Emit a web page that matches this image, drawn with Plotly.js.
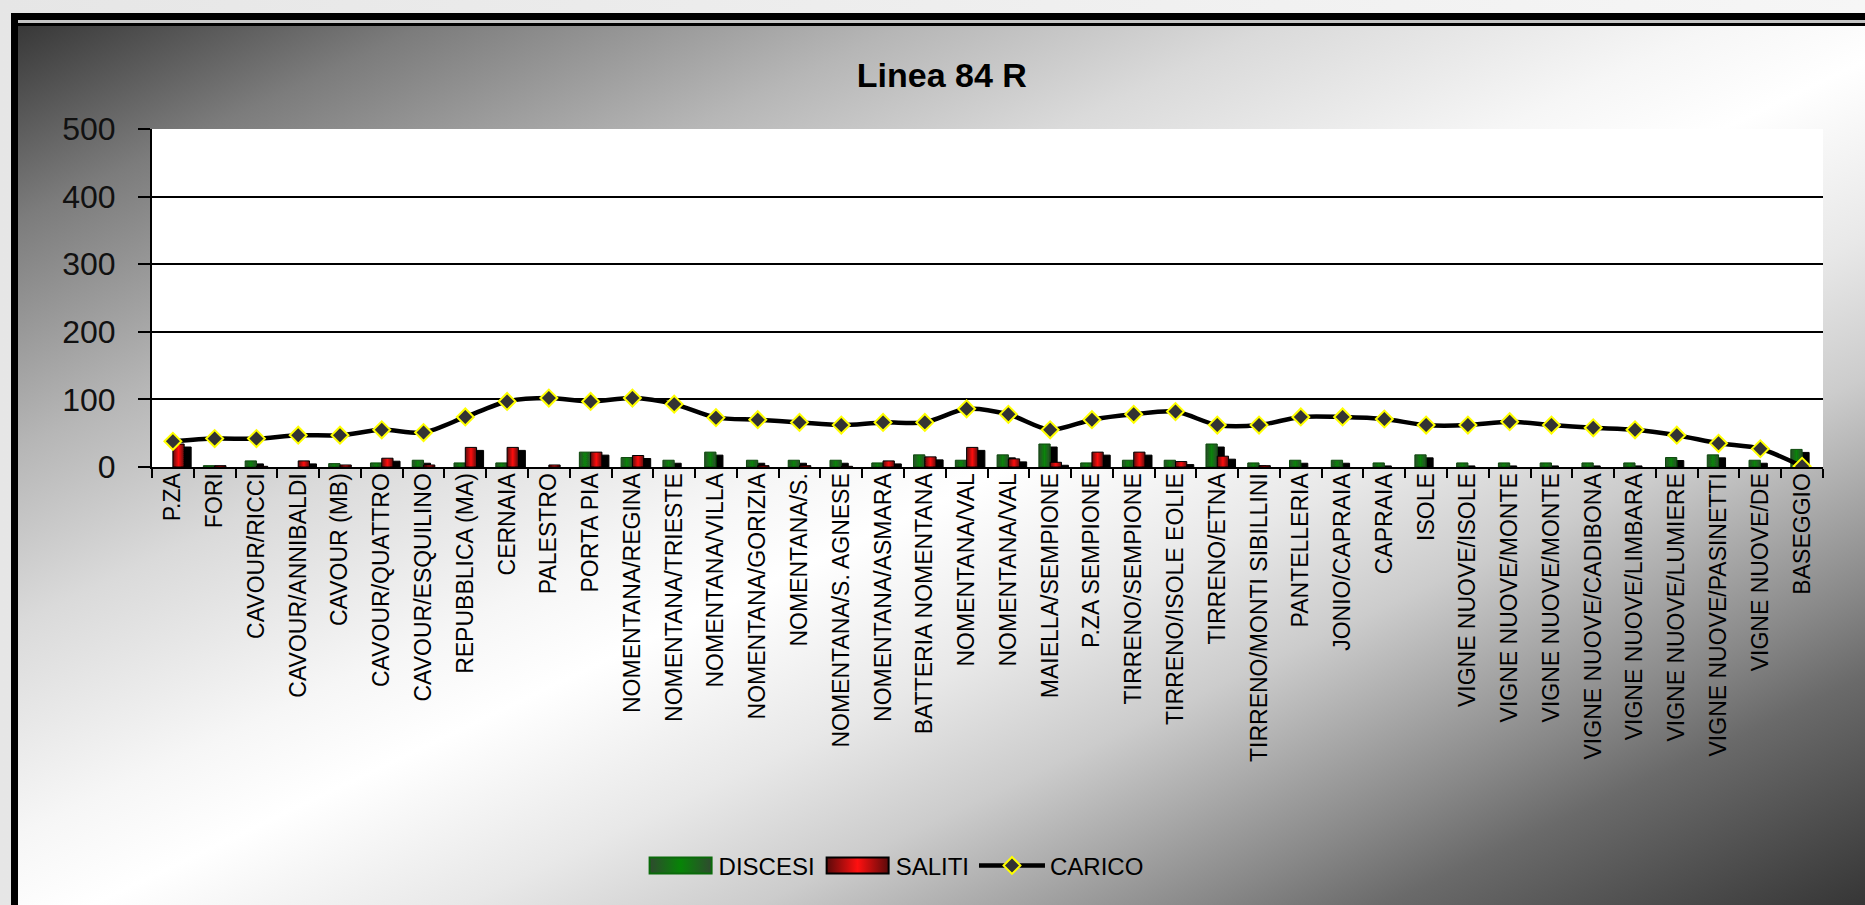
<!DOCTYPE html>
<html><head><meta charset="utf-8">
<script src="https://cdn.plot.ly/plotly-3.0.1.min.js"></script>
<style>
html,body{margin:0;padding:0;width:1865px;height:905px;overflow:hidden;background:linear-gradient(to right,#e6e6e6,#f6f6f6);}
#frame{position:absolute;left:11px;top:13px;width:1854px;height:892px;background:#000;}
#band{position:absolute;left:7px;top:7px;right:0;height:3px;background:#c4c4c4;}
#inner{position:absolute;left:7px;top:13px;width:1847px;height:879px;
 background:linear-gradient(to bottom right,#383838 0%,#7c7c7c 11%,#b6b6b6 24%,#dadada 34%,#f6f6f6 46%,#ffffff 52%,#e8e8e8 62%,#cccccc 70%,#aaaaaa 76%,#888888 82%,#6a6a6a 87%,#363636 100%);}
#chart{position:absolute;left:0;top:0;width:1865px;height:905px;}
#chart .barlayer .point path{filter:url(#barshadow);}
#chart .barlayer .trace:nth-of-type(1) .point path{fill:url(#gGreen)!important;}
#chart .barlayer .trace:nth-of-type(2) .point path{fill:url(#gRed)!important;}
</style>
</head><body>
<svg width="0" height="0" style="position:absolute"><defs>
<filter id="barshadow" x="-60%" y="-50%" width="320%" height="200%">
<feDropShadow dx="7" dy="3" stdDeviation="0" flood-color="#000" flood-opacity="1"/>
</filter>
<linearGradient id="gGreen" x1="0" y1="0" x2="1" y2="0">
<stop offset="0" stop-color="#2f4a2f"/><stop offset="0.5" stop-color="#078407"/><stop offset="1" stop-color="#2f4a2f"/>
</linearGradient>
<linearGradient id="gRed" x1="0" y1="0" x2="1" y2="0">
<stop offset="0" stop-color="#5a0a0a"/><stop offset="0.5" stop-color="#ff1010"/><stop offset="1" stop-color="#5a0a0a"/>
</linearGradient>
</defs></svg>
<div id="frame"><div id="band"></div><div id="inner"></div></div>
<div id="chart"></div>
<script>
const stops = ["P.ZA","FORI","CAVOUR/RICCI","CAVOUR/ANNIBALDI","CAVOUR (MB)","CAVOUR/QUATTRO","CAVOUR/ESQUILINO","REPUBBLICA (MA)","CERNAIA","PALESTRO","PORTA PIA","NOMENTANA/REGINA","NOMENTANA/TRIESTE","NOMENTANA/VILLA","NOMENTANA/GORIZIA","NOMENTANA/S.","NOMENTANA/S. AGNESE","NOMENTANA/ASMARA","BATTERIA NOMENTANA","NOMENTANA/VAL","NOMENTANA/VAL","MAIELLA/SEMPIONE","P.ZA SEMPIONE","TIRRENO/SEMPIONE","TIRRENO/ISOLE EOLIE","TIRRENO/ETNA","TIRRENO/MONTI SIBILLINI","PANTELLERIA","JONIO/CAPRAIA","CAPRAIA","ISOLE","VIGNE NUOVE/ISOLE","VIGNE NUOVE/MONTE","VIGNE NUOVE/MONTE","VIGNE NUOVE/CADIBONA","VIGNE NUOVE/LIMBARA","VIGNE NUOVE/LUMIERE","VIGNE NUOVE/PASINETTI","VIGNE NUOVE/DE","BASEGGIO"];
const discesi = [0,2,9,0,5,6,10,6,6,0,22,14,10,22,10,10,10,6,18,10,18,34,6,10,10,34,6,10,10,6,18,6,6,6,6,6,14,18,10,26];
const saliti  = [34,2,1,9,3,13,3,29,29,3,22,17,0,0,2,2,1,9,15,29,12,7,22,22,8,16,2,0,0,0,0,0,0,0,0,0,0,0,0,0];
const carico  = [38,42,42,47,47,55,51,74,97,102,97,102,93,73,70,66,62,66,66,86,78,55,70,78,82,62,62,74,74,71,62,62,67,62,58,55,47,35,27,1];
const yTicks = [0,100,200,300,400,500];

const idx = stops.map((s,i)=>i);
const font = "'Liberation Sans', Arial, sans-serif";

const traces = [
 {type:'bar', name:'DISCESI', x:idx, y:discesi,
  marker:{color:'#1b7a1b', line:{color:'#0b4a0b', width:1}}},
 {type:'bar', name:'SALITI', x:idx, y:saliti,
  marker:{color:'#ff1414', line:{color:'#000000', width:1}}},
 {type:'scatter', mode:'lines+markers', name:'CARICO', x:idx, y:carico,
  line:{color:'#000000', width:4.5, shape:'spline', smoothing:0.8},
  marker:{symbol:'diamond', size:13, color:'#333333', line:{color:'#ffff00', width:2}}}
];

const layout = {
 width:1865, height:905,
 paper_bgcolor:'rgba(0,0,0,0)', plot_bgcolor:'#ffffff',
 margin:{l:152, r:42, t:129, b:438},
 font:{family:font, color:'#000'},
 title:{text:'<b>Linea 84 R</b>', font:{family:font, size:34, color:'#000'},
  x:0.505, xanchor:'center', y:0.917, yanchor:'middle', xref:'container', yref:'container'},
 barmode:'group', bargap:0.46, bargroupgap:0,
 showlegend:true,
 legend:{orientation:'h', x:0.445, xanchor:'center', y:-1.18, yanchor:'middle',
  font:{family:font, size:24, color:'#000'}, bgcolor:'rgba(0,0,0,0)', itemwidth:66, tracegroupgap:0},
 xaxis:{type:'category', tickmode:'array', tickvals:idx, ticktext:stops, tickson:'boundaries',
  tickangle:-90, ticks:'outside', ticklen:9, tickwidth:2, tickcolor:'#000',
  showline:true, linecolor:'#000', linewidth:2, showgrid:false, zeroline:false,
  tickfont:{family:font, size:23, color:'#000'}, ticklabelstandoff:-5, range:[-0.5,39.5], fixedrange:true},
 yaxis:{range:[0,500], tickmode:'array', tickvals:yTicks, ticks:'outside', ticklen:12, tickwidth:2, tickcolor:'#000',
  showline:true, linecolor:'#000', linewidth:2, showgrid:true, gridcolor:'#000', gridwidth:2, zeroline:false,
  tickfont:{family:font, size:32, color:'#111'}, ticklabelstandoff:16, fixedrange:true}
};

Plotly.newPlot('chart', traces, layout, {displayModeBar:false, staticPlot:true}).then(function(gd){
  gd.querySelectorAll('.legend .traces').forEach(function(it){
    var t = it.querySelector('text.legendtext');
    var name = t ? t.textContent : '';
    if (name === 'DISCESI' || name === 'SALITI') {
      it.querySelectorAll('.legendpoints path').forEach(function(p){
        p.setAttribute('d','M-31,8H31V-8H-31Z');
        p.style.fill = name === 'DISCESI' ? 'url(#gGreen)' : 'url(#gRed)';
        p.style.stroke = name === 'DISCESI' ? '#0a6a0a' : '#000';
        p.style.strokeWidth = '2px';
      });
    }
  });
});
</script>
</body></html>
